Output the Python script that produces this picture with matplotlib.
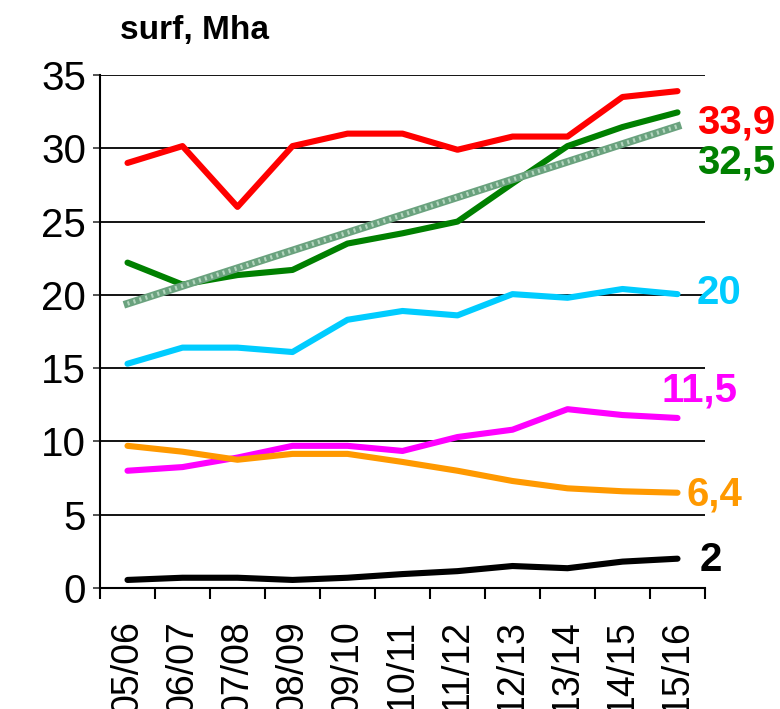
import numpy as np
import matplotlib.pyplot as plt

seasons = ['05/06', '06/07', '07/08', '08/09', '09/10', '10/11',
           '11/12', '12/13', '13/14', '14/15', '15/16']

red_vals = [29.0, 30.15, 26.0, 30.15, 31.0, 31.0, 29.9, 30.8, 30.8, 33.5, 33.9]
green_vals = [22.2, 20.7, 21.35, 21.7, 23.5, 24.2, 25.0, 27.6, 30.15, 31.45, 32.45]
trend_vals = [19.4, 20.6, 21.8, 23.0, 24.2, 25.4, 26.6, 27.8, 29.0, 30.3, 31.5]
cyan_vals = [15.3, 16.4, 16.4, 16.1, 18.3, 18.9, 18.6, 20.05, 19.8, 20.4, 20.05]
magenta_vals = [8.0, 8.25, 8.9, 9.7, 9.7, 9.35, 10.3, 10.8, 12.2, 11.8, 11.6]
orange_vals = [9.7, 9.3, 8.75, 9.15, 9.15, 8.6, 8.0, 7.3, 6.8, 6.6, 6.5]
black_vals = [0.55, 0.7, 0.7, 0.55, 0.7, 0.95, 1.15, 1.5, 1.35, 1.8, 2.0]

end_labels = ['33,9', '32,5', '20', '11,5', '6,4', '2']

plt.rcParams['font.family'] = ['Liberation Sans', 'DejaVu Sans']

fig = plt.figure(figsize=(7.8, 7.09), dpi=100)
ax = fig.add_axes([100/780, 121/709, 605/780, 513/709])

x = np.arange(len(seasons))
lw = 4.4

# horizontal grid
for v in range(5, 40, 5):
    ax.axhline(v, color='black', lw=1.3, zorder=1)

ax.plot(x, red_vals, color='#ff0000', lw=lw, solid_capstyle='round', zorder=3)
ax.plot(x, green_vals, color='#008000', lw=lw, solid_capstyle='round', zorder=3)
# trend line, drawn as a textured band
ax.plot([x[0], x[-1]], [trend_vals[0], trend_vals[-1]], color='#6aa27e',
        lw=5.5, zorder=4)
ax.plot([x[0], x[-1]], [trend_vals[0], trend_vals[-1]], color='#b4d6bf',
        lw=3.0, ls=(0, (0.5, 1.0)), zorder=5)
ax.plot(x, cyan_vals, color='#00ccff', lw=lw, solid_capstyle='round', zorder=3)
ax.plot(x, magenta_vals, color='#ff00ff', lw=lw, solid_capstyle='round', zorder=3)
ax.plot(x, orange_vals, color='#ff9900', lw=lw, solid_capstyle='round', zorder=3)
ax.plot(x, black_vals, color='black', lw=lw, solid_capstyle='round', zorder=3)

ax.set_xlim(-0.5, len(seasons) - 0.5)
ax.set_ylim(0, 35)

ax.spines['top'].set_visible(False)
ax.spines['right'].set_visible(False)
ax.spines['left'].set_linewidth(1.5)
ax.spines['bottom'].set_linewidth(1.5)

ax.set_yticks(range(0, 40, 5))
ax.tick_params(axis='y', labelsize=29, length=5, width=1.3, color='#444444', pad=5)

ax.set_xticks(x)
ax.set_xticklabels(seasons, rotation=90, fontsize=27, va='top', ha='center')
ax.set_xticks(np.arange(-0.5, len(seasons), 1), minor=True)
ax.tick_params(axis='x', which='major', length=0, pad=23)
ax.tick_params(axis='x', which='minor', length=8, width=1.5)

fig.text(120/780, 1 - 31/709, 'surf, Mha', fontsize=24, fontweight='bold',
         va='center', ha='left')

label_info = [
    (end_labels[0], '#ff0000', 697, 122),
    (end_labels[1], '#008000', 697, 163),
    (end_labels[2], '#00ccff', 697, 293),
    (end_labels[3], '#ff00ff', 662, 390),
    (end_labels[4], '#ff9900', 686, 494),
    (end_labels[5], 'black', 700, 560),
]
for txt, col, px, py in label_info:
    fig.text(px/780, 1 - py/709, txt, color=col, fontsize=29,
             fontweight='bold', va='center', ha='left')

fig.savefig('out.png', dpi=100)
